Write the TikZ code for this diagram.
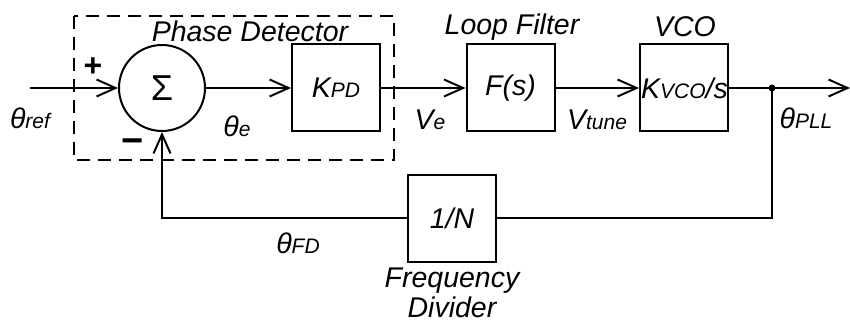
\documentclass[tikz,border=0pt]{standalone}
\usepackage{fontspec}
\setmainfont{Liberation Sans}
\usetikzlibrary{arrows.meta}
\newcommand\lblfont{\fontsize{28.5}{30}\selectfont\itshape}
\newcommand\sbs[1]{{\fontsize{21}{24}\selectfont #1}}
\begin{document}
\begin{tikzpicture}[x=1pt,y=-1pt,line width=2pt,
  blk/.style={draw, minimum width=88pt, minimum height=87pt, inner sep=0pt, font=\lblfont},
  sig/.style={-{Straight Barb[length=19pt,width=17pt,line width=2pt]}},
  lbl/.style={inner sep=0pt, font=\lblfont},
  pdbox/.style={draw, dash pattern=on 13pt off 8pt}]
\useasboundingbox (0,0) rectangle (850,323);
% dashed phase detector frame
\draw[pdbox] (74,16) rectangle (394,160);
% blocks
\node[draw, circle, minimum size=86pt, inner sep=0pt] (sum) at (162,88) {\fontsize{36}{40}\selectfont Σ};
\node[blk] (kpd) at (336,88) {K\sbs{PD}};
\node[blk] (fs) at (510.5,88) {F(s)};
\node[blk] (vco) at (684,88) {\hspace*{1pt}K\sbs{VCO}/s};
\node[blk] (div) at (452,218) {1/N};
% coordinates
\coordinate (in) at (30,88);
\coordinate (out) at (850,88);
\coordinate (tap) at (772,88);
\coordinate (c1) at (772,218);
\coordinate (c2) at (162,218);
% connectors
\draw[sig] (in) -- (sum.west);
\draw[sig] (sum.east) -- (kpd.west);
\draw[sig] (kpd.east) -- (fs.west);
\draw[sig] (fs.east) -- (vco.west);
\draw[sig] (vco.east) -- (out);
\fill (tap) circle (3.5pt);
\draw (tap) -- (c1) -- (div.east);
\draw[sig] (div.west) -- (c2) -- (sum.south);
% titles
\node[lbl] (tpd) at (250,31) {Phase Detector};
\node[lbl] (tlf) at (512,27) {Loop Filter};
\node[lbl] (tvco) at (685,27) {VCO};
\node[lbl, align=center] (tfd) at (452,293) {Frequency\\[0pt]Divider};
% signal labels
\node[lbl] (lref) at (30,118) {θ\sbs{ref}};
\node[lbl] (le) at (237,126) {θ\sbs{e}};
\node[lbl] (lve) at (430,120) {V\sbs{e}};
\node[lbl] (lvt) at (597,120) {V\sbs{tune}};
\node[lbl] (lpll) at (806,118) {θ\sbs{PLL}};
\node[lbl] (lfd) at (298,243) {θ\sbs{FD}};
% signs
\node[inner sep=0pt, font=\fontsize{32}{36}\selectfont\bfseries] (plus) at (93,67) {+};
\node[inner sep=0pt, font=\fontsize{38}{40}\selectfont\bfseries] (minus) at (133,146) {−};
\end{tikzpicture}
\end{document}
